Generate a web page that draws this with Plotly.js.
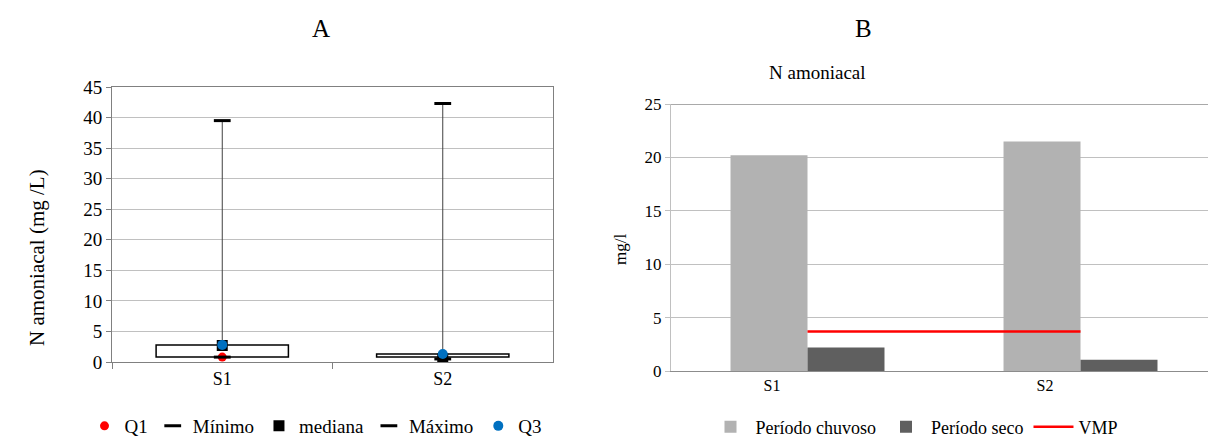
<!DOCTYPE html>
<html><head><meta charset="utf-8">
<script src="https://cdn.plot.ly/plotly-3.0.1.min.js"></script>
<style>html,body{margin:0;padding:0;background:#fff}#chart{width:1208px;height:438px}</style>
</head><body><div id="chart"></div>
<script>
// ---- Data ----
const sites = ['S1', 'S2'];
const minimo = [0.8, 0.5];
const q1 = [0.8, 0.8];
const mediana = [2.7, 0.5];
const q3 = [2.8, 1.3];
const maximo = [39.5, 42.3];

const periodoChuvoso = [20.2, 21.5];
const periodoSeco = [2.2, 1.05];
const vmp = [3.7, 3.7];

const leftTicks = [0, 5, 10, 15, 20, 25, 30, 35, 40, 45];
const rightTicks = [0, 5, 10, 15, 20, 25];

const serif = 'Liberation Serif, Times New Roman, serif';

// whisker segments from Q3 to max
const wx = [], wy = [];
sites.forEach((s, i) => { wx.push(s, s, null); wy.push(q3[i], maximo[i], null); });

const traces = [
  {type: 'bar', x: sites, y: q3.map((v, i) => v - q1[i]), base: q1, width: 0.6,
   marker: {color: '#ffffff', line: {color: '#000000', width: 1.5}},
   xaxis: 'x', yaxis: 'y', showlegend: false, hoverinfo: 'skip'},
  {type: 'scatter', mode: 'lines', x: wx, y: wy, line: {color: '#404040', width: 1},
   xaxis: 'x', yaxis: 'y', showlegend: false, hoverinfo: 'skip', connectgaps: false},
  {type: 'scatter', mode: 'markers', name: 'Q1', x: sites, y: q1,
   marker: {color: '#ff0000', symbol: 'circle', size: 9}, xaxis: 'x', yaxis: 'y', legend: 'legend'},
  {type: 'scatter', mode: 'markers', name: 'Mínimo', x: sites, y: minimo,
   marker: {color: '#000000', symbol: 'line-ew', size: 12, line: {color: '#000000', width: 3}}, xaxis: 'x', yaxis: 'y', legend: 'legend'},
  {type: 'scatter', mode: 'markers', name: 'mediana', x: sites, y: mediana,
   marker: {color: '#000000', symbol: 'square', size: 11}, xaxis: 'x', yaxis: 'y', legend: 'legend'},
  {type: 'scatter', mode: 'markers', name: 'Máximo', x: sites, y: maximo,
   marker: {color: '#000000', symbol: 'line-ew', size: 12, line: {color: '#000000', width: 3}}, xaxis: 'x', yaxis: 'y', legend: 'legend'},
  {type: 'scatter', mode: 'markers', name: 'Q3', x: sites, y: q3,
   marker: {color: '#0070c0', symbol: 'circle', size: 10}, xaxis: 'x', yaxis: 'y', legend: 'legend'},

  {type: 'bar', name: 'Período chuvoso', x: sites, y: periodoChuvoso, marker: {color: '#b2b2b2'},
   xaxis: 'x2', yaxis: 'y2', legend: 'legend2', offsetgroup: 'a'},
  {type: 'bar', name: 'Período seco', x: sites, y: periodoSeco, marker: {color: '#5f5f5f'},
   xaxis: 'x2', yaxis: 'y2', legend: 'legend2', offsetgroup: 'b'},
  {type: 'scatter', mode: 'lines', name: 'VMP', x: sites, y: vmp, line: {color: '#ff0000', width: 2.5},
   xaxis: 'x2', yaxis: 'y2', legend: 'legend2'}
];

const W = 1208, H = 438;
const layout = {
  width: W, height: H, margin: {l: 0, r: 0, t: 0, b: 0, autoexpand: false},
  paper_bgcolor: '#fff', plot_bgcolor: '#fff',
  font: {family: serif, color: '#000', size: 16},
  barmode: 'group', bargap: 0.436, bargroupgap: 0,
  xaxis: {domain: [112 / W, 553 / W], anchor: 'y', type: 'category', range: [-0.5, 1.5],
    showline: true, linecolor: '#808080', mirror: true, ticks: 'outside', tickson: 'boundaries',
    ticklen: 6, tickcolor: '#808080', tickfont: {family: serif, size: 18}, showgrid: false, automargin: false},
  yaxis: {domain: [(H - 362) / H, (H - 87) / H], anchor: 'x', range: [0, 45], tickvals: leftTicks,
    showline: true, linecolor: '#808080', mirror: true, ticks: 'outside', ticklen: 5, tickcolor: '#808080',
    gridcolor: '#c0c0c0', gridwidth: 1, tickfont: {family: serif, size: 19}, zeroline: false, automargin: false},
  xaxis2: {domain: [671 / W, 1], anchor: 'y2', type: 'category', range: [-0.5, 1.467],
    showline: true, linecolor: '#8c8c8c', ticks: '', showgrid: false, automargin: false,
    tickmode: 'array', tickvals: [-0.13, 0.87], ticktext: sites, tickfont: {family: serif, size: 16}},
  yaxis2: {domain: [(H - 371) / H, (H - 104) / H], anchor: 'x2', range: [0, 25], tickvals: rightTicks,
    showline: true, linecolor: '#c0c0c0', ticks: 'outside', ticklen: 5, tickcolor: '#c0c0c0', automargin: false,
    gridcolor: '#c0c0c0', gridwidth: 1, tickfont: {family: serif, size: 17}, zeroline: false},
  legend: {orientation: 'h', x: 316 / W, xanchor: 'center', y: (H - 426) / H, yanchor: 'middle',
    font: {family: serif, size: 19}, itemwidth: 30, bgcolor: 'rgba(0,0,0,0)'},
  legend2: {orientation: 'h', x: 914 / W, xanchor: 'center', y: (H - 427) / H, yanchor: 'middle',
    font: {family: serif, size: 18}, itemwidth: 40, bgcolor: 'rgba(0,0,0,0)'},
  shapes: [
    {type: 'line', xref: 'x2 domain', yref: 'y2', x0: 0, x1: 1, y0: 25, y1: 25, line: {color: '#8c8c8c', width: 1.5}, layer: 'above'}
  ],
  annotations: [
    {text: 'A', xref: 'paper', yref: 'paper', x: 310 / W, y: (H - 28) / H, yanchor: 'middle', showarrow: false, font: {family: serif, size: 25}},
    {text: 'B', xref: 'paper', yref: 'paper', x: 874 / W, y: (H - 28) / H, yanchor: 'middle', showarrow: false, font: {family: serif, size: 25}},
    {text: 'N amoniacal', xref: 'paper', yref: 'paper', x: 868 / W, y: (H - 72) / H, yanchor: 'middle', showarrow: false, font: {family: serif, size: 19}},
    {text: 'N amoniacal (mg /L)', xref: 'paper', yref: 'paper', x: 23 / W, y: (H - 258) / H, yanchor: 'middle', textangle: -90, showarrow: false, font: {family: serif, size: 21}},
    {text: 'mg/l', xref: 'paper', yref: 'paper', x: 620 / W, y: (H - 250) / H, yanchor: 'middle', textangle: -90, showarrow: false, font: {family: serif, size: 17}}
  ]
};

Plotly.newPlot('chart', traces, layout, {displayModeBar: false, staticPlot: true});
</script></body></html>
